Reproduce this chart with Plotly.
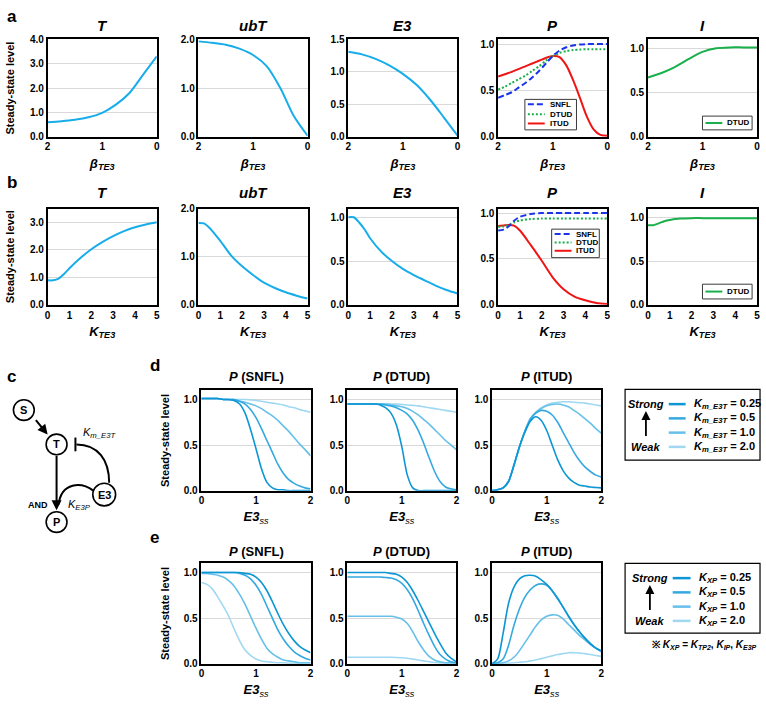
import plotly.graph_objects as go

# ======================= DATA =======================
# Row a : x = beta_TE3 (axis runs 2 -> 0)
beta_pts = [2.0, 1.75, 1.5, 1.25, 1.0, 0.75, 0.5, 0.25, 0.0]
a_T = [0.60, 0.64, 0.70, 0.80, 0.98, 1.32, 1.80, 2.55, 3.30]
a_ubT = [1.96, 1.93, 1.89, 1.81, 1.68, 1.45, 1.00, 0.42, 0.02]
a_E3 = [1.31, 1.27, 1.20, 1.10, 0.97, 0.80, 0.57, 0.30, 0.02]
a_I_DTUD = [0.67, 0.72, 0.79, 0.88, 0.96, 1.00, 1.01, 1.01, 1.01]
beta_fine = [2.0, 1.875, 1.75, 1.625, 1.5, 1.375, 1.25, 1.125, 1.0,
             0.875, 0.75, 0.625, 0.5, 0.375, 0.25, 0.125, 0.0]
a_P_SNFL = [0.42, 0.45, 0.48, 0.53, 0.58, 0.64, 0.71, 0.79, 0.87,
            0.93, 0.965, 0.985, 0.995, 1.0, 1.0, 1.0, 1.0]
a_P_DTUD = [0.51, 0.54, 0.58, 0.62, 0.66, 0.71, 0.76, 0.82, 0.87,
            0.905, 0.925, 0.935, 0.94, 0.945, 0.945, 0.945, 0.945]
a_P_ITUD = [0.65, 0.675, 0.70, 0.73, 0.76, 0.79, 0.82, 0.85, 0.87,
            0.86, 0.77, 0.61, 0.42, 0.22, 0.08, 0.02, 0.01]

# Row b : x = K_TE3
K_pts = [0, 0.25, 0.5, 0.75, 1, 1.5, 2, 2.5, 3, 3.5, 4, 4.5, 5]
b_T = [0.89, 0.89, 0.95, 1.12, 1.33, 1.70, 2.02, 2.28, 2.50, 2.68, 2.82, 2.92, 3.00]
b_ubT = [1.70, 1.69, 1.60, 1.47, 1.33, 1.02, 0.80, 0.62, 0.46, 0.35, 0.26, 0.19, 0.13]
b_E3 = [1.00, 1.00, 0.94, 0.86, 0.76, 0.61, 0.50, 0.41, 0.34, 0.28, 0.22, 0.17, 0.13]
b_P_SNFL = [0.81, 0.82, 0.86, 0.92, 0.96, 0.99, 1.0, 1.0, 1.0, 1.0, 1.0, 1.0, 1.0]
b_P_DTUD = [0.85, 0.855, 0.87, 0.90, 0.92, 0.935, 0.94, 0.94, 0.94, 0.94, 0.94, 0.94, 0.94]
b_P_ITUD = [0.86, 0.865, 0.87, 0.86, 0.81, 0.65, 0.48, 0.30, 0.17, 0.09, 0.05, 0.02, 0.01]
b_I_DTUD = [0.91, 0.91, 0.93, 0.955, 0.97, 0.985, 0.99, 0.99, 0.99, 0.99, 0.99, 0.99, 0.99]

# Rows d/e : x = E3ss
E3_pts = [0.0, 0.1, 0.2, 0.3, 0.4, 0.5, 0.6, 0.7, 0.8, 0.9, 1.0,
          1.1, 1.2, 1.3, 1.4, 1.5, 1.6, 1.7, 1.8, 1.9, 2.0]
param_values = ["0.25", "0.5", "1.0", "2.0"]

d_SNFL = [
    [1.01, 1.01, 1.01, 1.01, 1.0, 1.0, 0.99, 0.95, 0.85, 0.67, 0.46, 0.24, 0.09, 0.03, 0.01, 0.01, 0.0, 0.0, 0.0, 0.0, 0.0],
    [1.01, 1.01, 1.01, 1.01, 1.0, 1.0, 1.0, 0.98, 0.95, 0.89, 0.80, 0.68, 0.55, 0.42, 0.29, 0.19, 0.12, 0.08, 0.05, 0.03, 0.02],
    [1.01, 1.01, 1.01, 1.01, 1.0, 1.0, 0.99, 0.98, 0.97, 0.95, 0.93, 0.90, 0.86, 0.82, 0.77, 0.71, 0.65, 0.58, 0.51, 0.45, 0.38],
    [1.01, 1.01, 1.01, 1.01, 1.0, 1.0, 1.0, 1.0, 1.0, 0.995, 0.99, 0.98, 0.97, 0.96, 0.95, 0.94, 0.92, 0.91, 0.89, 0.875, 0.86],
]
d_DTUD = [
    [0.95, 0.95, 0.95, 0.95, 0.95, 0.95, 0.94, 0.91, 0.85, 0.72, 0.48, 0.17, 0.03, 0.0, 0.0, 0.0, 0.0, 0.0, 0.0, 0.0, 0.0],
    [0.95, 0.95, 0.95, 0.95, 0.95, 0.95, 0.95, 0.94, 0.93, 0.91, 0.88, 0.84, 0.77, 0.66, 0.52, 0.36, 0.21, 0.10, 0.04, 0.02, 0.01],
    [0.95, 0.95, 0.95, 0.95, 0.95, 0.95, 0.95, 0.95, 0.94, 0.93, 0.92, 0.90, 0.87, 0.83, 0.78, 0.73, 0.67, 0.61, 0.55, 0.50, 0.45],
    [0.95, 0.95, 0.95, 0.95, 0.95, 0.95, 0.95, 0.95, 0.95, 0.95, 0.945, 0.94, 0.935, 0.93, 0.92, 0.91, 0.90, 0.89, 0.88, 0.87, 0.86],
]
d_ITUD = [
    [0.0, 0.01, 0.03, 0.10, 0.28, 0.48, 0.64, 0.76, 0.81, 0.77, 0.66, 0.50, 0.34, 0.22, 0.14, 0.09, 0.06, 0.05, 0.04, 0.035, 0.03],
    [0.0, 0.01, 0.03, 0.10, 0.28, 0.48, 0.65, 0.78, 0.85, 0.88, 0.87, 0.83, 0.75, 0.64, 0.53, 0.42, 0.33, 0.26, 0.21, 0.17, 0.15],
    [0.0, 0.01, 0.03, 0.10, 0.28, 0.48, 0.65, 0.79, 0.86, 0.90, 0.93, 0.945, 0.95, 0.94, 0.92, 0.88, 0.84, 0.79, 0.74, 0.68, 0.63],
    [0.0, 0.01, 0.03, 0.10, 0.28, 0.48, 0.65, 0.79, 0.86, 0.91, 0.94, 0.96, 0.97, 0.975, 0.975, 0.97, 0.965, 0.96, 0.95, 0.94, 0.93],
]
e_SNFL = [
    [1.0, 1.0, 1.0, 1.0, 1.0, 1.0, 1.0, 1.0, 0.99, 0.98, 0.95, 0.89, 0.80, 0.68, 0.55, 0.43, 0.33, 0.25, 0.19, 0.15, 0.12],
    [1.0, 1.0, 1.0, 1.0, 1.0, 1.0, 1.0, 0.99, 0.97, 0.93, 0.86, 0.76, 0.63, 0.50, 0.37, 0.27, 0.19, 0.13, 0.09, 0.06, 0.04],
    [0.99, 0.99, 0.98, 0.97, 0.95, 0.91, 0.85, 0.76, 0.65, 0.52, 0.39, 0.27, 0.17, 0.11, 0.07, 0.04, 0.03, 0.02, 0.01, 0.01, 0.01],
    [0.89, 0.87, 0.82, 0.73, 0.63, 0.52, 0.38, 0.25, 0.15, 0.09, 0.05, 0.03, 0.02, 0.015, 0.01, 0.01, 0.005, 0.005, 0.005, 0.005, 0.005],
]
e_DTUD = [
    [1.0, 1.0, 1.0, 1.0, 1.0, 1.0, 1.0, 1.0, 0.99, 0.98, 0.95, 0.89, 0.80, 0.69, 0.57, 0.45, 0.33, 0.22, 0.12, 0.06, 0.02],
    [0.95, 0.95, 0.95, 0.95, 0.95, 0.95, 0.95, 0.945, 0.94, 0.92, 0.88, 0.81, 0.71, 0.58, 0.44, 0.31, 0.19, 0.10, 0.05, 0.02, 0.01],
    [0.52, 0.52, 0.52, 0.52, 0.52, 0.52, 0.52, 0.52, 0.52, 0.51, 0.49, 0.44, 0.35, 0.24, 0.15, 0.08, 0.04, 0.02, 0.01, 0.01, 0.005],
    [0.07, 0.07, 0.07, 0.07, 0.07, 0.07, 0.07, 0.07, 0.07, 0.068, 0.065, 0.06, 0.05, 0.04, 0.03, 0.02, 0.012, 0.007, 0.005, 0.004, 0.003],
]
e_ITUD = [
    [0.0, 0.05, 0.33, 0.66, 0.84, 0.93, 0.965, 0.97, 0.96, 0.92, 0.87, 0.80, 0.71, 0.62, 0.52, 0.43, 0.35, 0.28, 0.22, 0.17, 0.14],
    [0.0, 0.01, 0.05, 0.20, 0.42, 0.60, 0.73, 0.81, 0.86, 0.875, 0.86, 0.80, 0.72, 0.62, 0.52, 0.43, 0.35, 0.28, 0.22, 0.17, 0.14],
    [0.0, 0.0, 0.01, 0.03, 0.07, 0.14, 0.23, 0.32, 0.41, 0.48, 0.52, 0.535, 0.53, 0.49, 0.43, 0.37, 0.31, 0.26, 0.21, 0.17, 0.13],
    [0.0, 0.0, 0.0, 0.005, 0.01, 0.015, 0.02, 0.03, 0.04, 0.055, 0.07, 0.085, 0.10, 0.11, 0.12, 0.12, 0.115, 0.11, 0.10, 0.09, 0.08],
]

a_xticks = [2, 1, 0]
b_xticks = [0, 1, 2, 3, 4, 5]
de_xticks = [0, 1, 2]

# ======================= STYLE =======================
W, H = 766, 707
FONT = "Liberation Sans, Arial, Helvetica, sans-serif"
SKY = "#17ADEA"
C_SNFL, C_DTUD, C_ITUD = "#1A35E8", "#19B04B", "#F01414"
SHADES = ["#0D96D6", "#34A9E0", "#66C0E9", "#A0D8F2"]
GRID = "#d9d9d9"

layout = dict(width=W, height=H, margin=dict(l=0, r=0, t=0, b=0),
              paper_bgcolor="white", plot_bgcolor="white", showlegend=False,
              font=dict(family=FONT, color="black"))
ann, shp = [], []
counter = [0]


def fx(p):
    return p / W


def fy(p):
    return 1 - p / H


def clamp(v):
    return min(1.0, max(0.0, v))


def txt(s, x, y, size, xanchor="center", yanchor="middle"):
    ann.append(dict(text=s, xref="paper", yref="paper", x=fx(x), y=fy(y),
                    showarrow=False, xanchor=xanchor, yanchor=yanchor,
                    font=dict(size=size, family=FONT, color="black")))


def panel(left, top, w, h, xrange, xticks, yrange, yticks, title, title_y,
          xtitle, ytitle=None, tsize=15, ticksize=10, ytitle_standoff=13,
          xtitle_standoff=7):
    counter[0] += 1
    s = "" if counter[0] == 1 else str(counter[0])
    tf = dict(size=ticksize, family=FONT, color="black", weight="bold")
    layout["xaxis" + s] = dict(
        domain=[clamp(fx(left)), clamp(fx(left + w))], anchor="y" + s,
        range=xrange, tickmode="array", tickvals=xticks, ticks="",
        showgrid=False, zeroline=False, showline=True, linecolor="black",
        linewidth=1.5, mirror=True, tickfont=tf, fixedrange=True,
        ticklabeloverflow="allow",
        title=dict(text=xtitle, font=dict(size=13, family=FONT, color="black"),
                   standoff=xtitle_standoff))
    ya = dict(
        domain=[clamp(fy(top + h)), clamp(fy(top))], anchor="x" + s,
        range=yrange, tickmode="array", tickvals=yticks, tickformat=".1f",
        ticks="", showgrid=True, gridcolor=GRID, gridwidth=1, zeroline=False,
        showline=True, linecolor="black", linewidth=1.5, mirror=True,
        tickfont=tf, fixedrange=True)
    if ytitle:
        ya["title"] = dict(text=ytitle, standoff=ytitle_standoff,
                           font=dict(size=11, family=FONT, color="black"))
    layout["yaxis" + s] = ya
    txt(title, left + w / 2, title_y, tsize)
    return "x" + s, "y" + s


fig = go.Figure()


def line(ax, x, y, color, width=2, dash=None):
    fig.add_trace(go.Scatter(x=x, y=y, xaxis=ax[0], yaxis=ax[1], mode="lines",
                             line=dict(color=color, width=width, shape="spline",
                                       smoothing=0.8, dash=dash),
                             hoverinfo="skip"))


def small_legend(x0, y0, x1, y1, entries):
    shp.append(dict(type="rect", xref="paper", yref="paper", x0=fx(x0), x1=fx(x1),
                    y0=fy(y0), y1=fy(y1), line=dict(color="#3a3a3a", width=1),
                    fillcolor="white", layer="above"))
    for (ly, label, color, dash) in entries:
        shp.append(dict(type="line", xref="paper", yref="paper", x0=fx(x0 + 3),
                        x1=fx(x0 + 20), y0=fy(ly), y1=fy(ly), layer="above",
                        line=dict(color=color, width=2, dash=dash)))
        txt("<b>%s</b>" % label, x0 + 23, ly, 8, xanchor="left")


YT = "<b>Steady-state level</b>"
lefts = [45, 197, 348, 499, 650]
PW = 110
BETA = "<b><i>β</i><sub><i>TE3</i></sub></b>"
KTE3 = "<b><i>K</i><sub><i>TE3</i></sub></b>"
E3SS = "<b><i>E3</i></b><i><sub>ss</sub></i>"

# ---------------- row a ----------------
specs_a = [
    ("<b><i>T</i></b>", [0, 4], [0, 1, 2, 3, 4]),
    ("<b><i>ubT</i></b>", [0, 2], [0, 1, 2]),
    ("<b><i>E3</i></b>", [0, 1.5], [0, 0.5, 1.0, 1.5]),
    ("<b><i>P</i></b>", [0, 1.05], [0, 0.5, 1.0]),
    ("<b><i>I</i></b>", [0, 1.1], [0, 0.5, 1.0]),
]
axa = []
for i, (t, yr, yt) in enumerate(specs_a):
    axa.append(panel(lefts[i], 34, PW, 99, [2, 0], a_xticks, yr, yt,
                     t, 20, BETA, YT if i == 0 else None))
line(axa[0], beta_pts, a_T, SKY)
line(axa[1], beta_pts, a_ubT, SKY)
line(axa[2], beta_pts, a_E3, SKY)
line(axa[3], beta_fine, a_P_ITUD, C_ITUD)
line(axa[3], beta_fine, a_P_DTUD, C_DTUD, dash="2px,2px")
line(axa[3], beta_fine, a_P_SNFL, C_SNFL, dash="6px,3px")
line(axa[4], beta_pts, a_I_DTUD, C_DTUD)
small_legend(526, 95, 578, 126, [(100, "SNFL", C_SNFL, "6px,3px"),
                                 (110, "DTUD", C_DTUD, "2px,2px"),
                                 (119.5, "ITUD", C_ITUD, None)])
small_legend(705, 112, 755, 126, [(119, "DTUD", C_DTUD, None)])

# ---------------- row b ----------------
specs_b = [
    ("<b><i>T</i></b>", [0, 3.5], [0, 1, 2, 3]),
    ("<b><i>ubT</i></b>", [0, 2], [0, 1, 2]),
    ("<b><i>E3</i></b>", [0, 1.1], [0, 0.5, 1.0]),
    ("<b><i>P</i></b>", [0, 1.05], [0, 0.5, 1.0]),
    ("<b><i>I</i></b>", [0, 1.1], [0, 0.5, 1.0]),
]
axb = []
for i, (t, yr, yt) in enumerate(specs_b):
    axb.append(panel(lefts[i], 206, PW, 98, [0, 5], b_xticks, yr, yt,
                     t, 190, KTE3, YT if i == 0 else None))
line(axb[0], K_pts, b_T, SKY)
line(axb[1], K_pts, b_ubT, SKY)
line(axb[2], K_pts, b_E3, SKY)
line(axb[3], K_pts, b_P_ITUD, C_ITUD)
line(axb[3], K_pts, b_P_DTUD, C_DTUD, dash="2px,2px")
line(axb[3], K_pts, b_P_SNFL, C_SNFL, dash="6px,3px")
line(axb[4], K_pts, b_I_DTUD, C_DTUD)
small_legend(553, 227, 601, 256, [(232, "SNFL", C_SNFL, "6px,3px"),
                                  (240.5, "DTUD", C_DTUD, "2px,2px"),
                                  (249, "ITUD", C_ITUD, None)])
small_legend(705, 283, 755, 298, [(290.5, "DTUD", C_DTUD, None)])

# ---------------- rows d and e ----------------
de_lefts = [200, 347, 493]
de_titles = ["<b><i>P</i> (SNFL)</b>", "<b><i>P</i> (DTUD)</b>", "<b><i>P</i> (ITUD)</b>"]
for (top, h, title_y, groups) in [(391, 102, 377, [d_SNFL, d_DTUD, d_ITUD]),
                                  (567, 102, 555, [e_SNFL, e_DTUD, e_ITUD])]:
    for i in range(3):
        ax = panel(de_lefts[i], top, PW, h, [0, 2], de_xticks, [0, 1.1],
                   [0, 0.5, 1.0], de_titles[i], title_y, E3SS,
                   YT if i == 0 else None, tsize=13, ticksize=10,
                   ytitle_standoff=12)
        for k in range(3, -1, -1):
            line(ax, E3_pts, groups[i][k], SHADES[k], width=1.6)


def strength_legend(top, bottom, sx, line_x0, line_x1, label_x, ys, labels):
    shp.append(dict(type="rect", xref="paper", yref="paper", x0=fx(627), x1=fx(763),
                    y0=fy(top), y1=fy(bottom), line=dict(color="black", width=1.2)))
    txt("<b><i>Strong</i></b>", sx, ys[0], 11)
    txt("<b><i>Weak</i></b>", sx, ys[3], 11)
    ann.append(dict(text="", xref="paper", yref="paper", x=fx(sx), y=fy(ys[0] + 7),
                    ax=0, ay=(ys[3] - ys[0]) - 17, showarrow=True, arrowhead=2,
                    arrowsize=1, arrowwidth=1.8, arrowcolor="black"))
    for k in range(4):
        shp.append(dict(type="line", xref="paper", yref="paper", x0=fx(line_x0),
                        x1=fx(line_x1), y0=fy(ys[k]), y1=fy(ys[k]),
                        line=dict(color=SHADES[k], width=2.5)))
        txt("<b>%s = %s</b>" % (labels, param_values[k]), label_x, ys[k], 11,
            xanchor="left")


strength_legend(390, 462, 648, 671, 688, 694, [405, 419.5, 434, 448.5],
                "<i>K<sub>m_E3T</sub></i>")
strength_legend(567, 638, 652, 675, 693, 699, [582, 596.5, 611, 625.5],
                "<i>K<sub>XP</sub></i>")
txt("<b>※ <i>K<sub>XP</sub></i> = <i>K<sub>TP2</sub></i>, <i>K<sub>IP</sub></i>, "
    "<i>K<sub>E3P</sub></i></b>", 707, 650, 10)

# ---------------- panel c : network diagram ----------------
for (lab, cx, cy, r) in [("S", 21, 411, 10.5), ("T", 54, 446, 10.5),
                         ("E3", 102, 497, 11.5), ("P", 54, 525, 10.5)]:
    shp.append(dict(type="circle", xref="paper", yref="paper", x0=fx(cx - r),
                    x1=fx(cx + r), y0=fy(cy + r), y1=fy(cy - r),
                    line=dict(color="black", width=1.6), fillcolor="white"))
    txt("<b>%s</b>" % lab, cx, cy, 11)


def ppath(cmds):
    out = []
    for c in cmds:
        if isinstance(c, str):
            out.append(c)
        else:
            out.append("%.5f,%.5f" % (fx(c[0]), fy(c[1])))
    return " ".join(out)


shp.append(dict(type="path", xref="paper", yref="paper",
                path=ppath(["M", (107, 485), "C", (107, 462), (96, 446), (74, 446)]),
                line=dict(color="black", width=2)))
shp.append(dict(type="line", xref="paper", yref="paper", x0=fx(73), x1=fx(73),
                y0=fy(439), y1=fy(453), line=dict(color="black", width=2)))
shp.append(dict(type="path", xref="paper", yref="paper",
                path=ppath(["M", (91, 493), "C", (79, 484), (59, 484), (56, 507)]),
                line=dict(color="black", width=2)))
for (hx, hy, tx, ty) in [(45, 436, 32, 420), (54, 513, 54, 457)]:
    ann.append(dict(text="", xref="paper", yref="paper", x=fx(hx), y=fy(hy),
                    ax=tx - hx, ay=ty - hy, showarrow=True, arrowhead=2,
                    arrowsize=1, arrowwidth=2, arrowcolor="black"))
txt("<b>AND</b>", 35, 508, 9)
txt("<i>K<sub>E3P</sub></i>", 77, 508, 11)
txt("<i>K<sub>m_E3T</sub></i>", 97, 434, 11)

# ---------------- panel letters ----------------
for (lab, x, y) in [("a", 9, 11), ("b", 9, 180), ("c", 9, 377),
                    ("d", 153, 366), ("e", 153, 541)]:
    txt("<b>%s</b>" % lab, x, y, 17)

layout["annotations"] = ann
layout["shapes"] = shp
fig.update_layout(**layout)
fig.write_html(
    "out.html",
    config={"displayModeBar": False},
    post_script="document.body.style.margin='0';document.body.style.overflow='hidden';",
)
